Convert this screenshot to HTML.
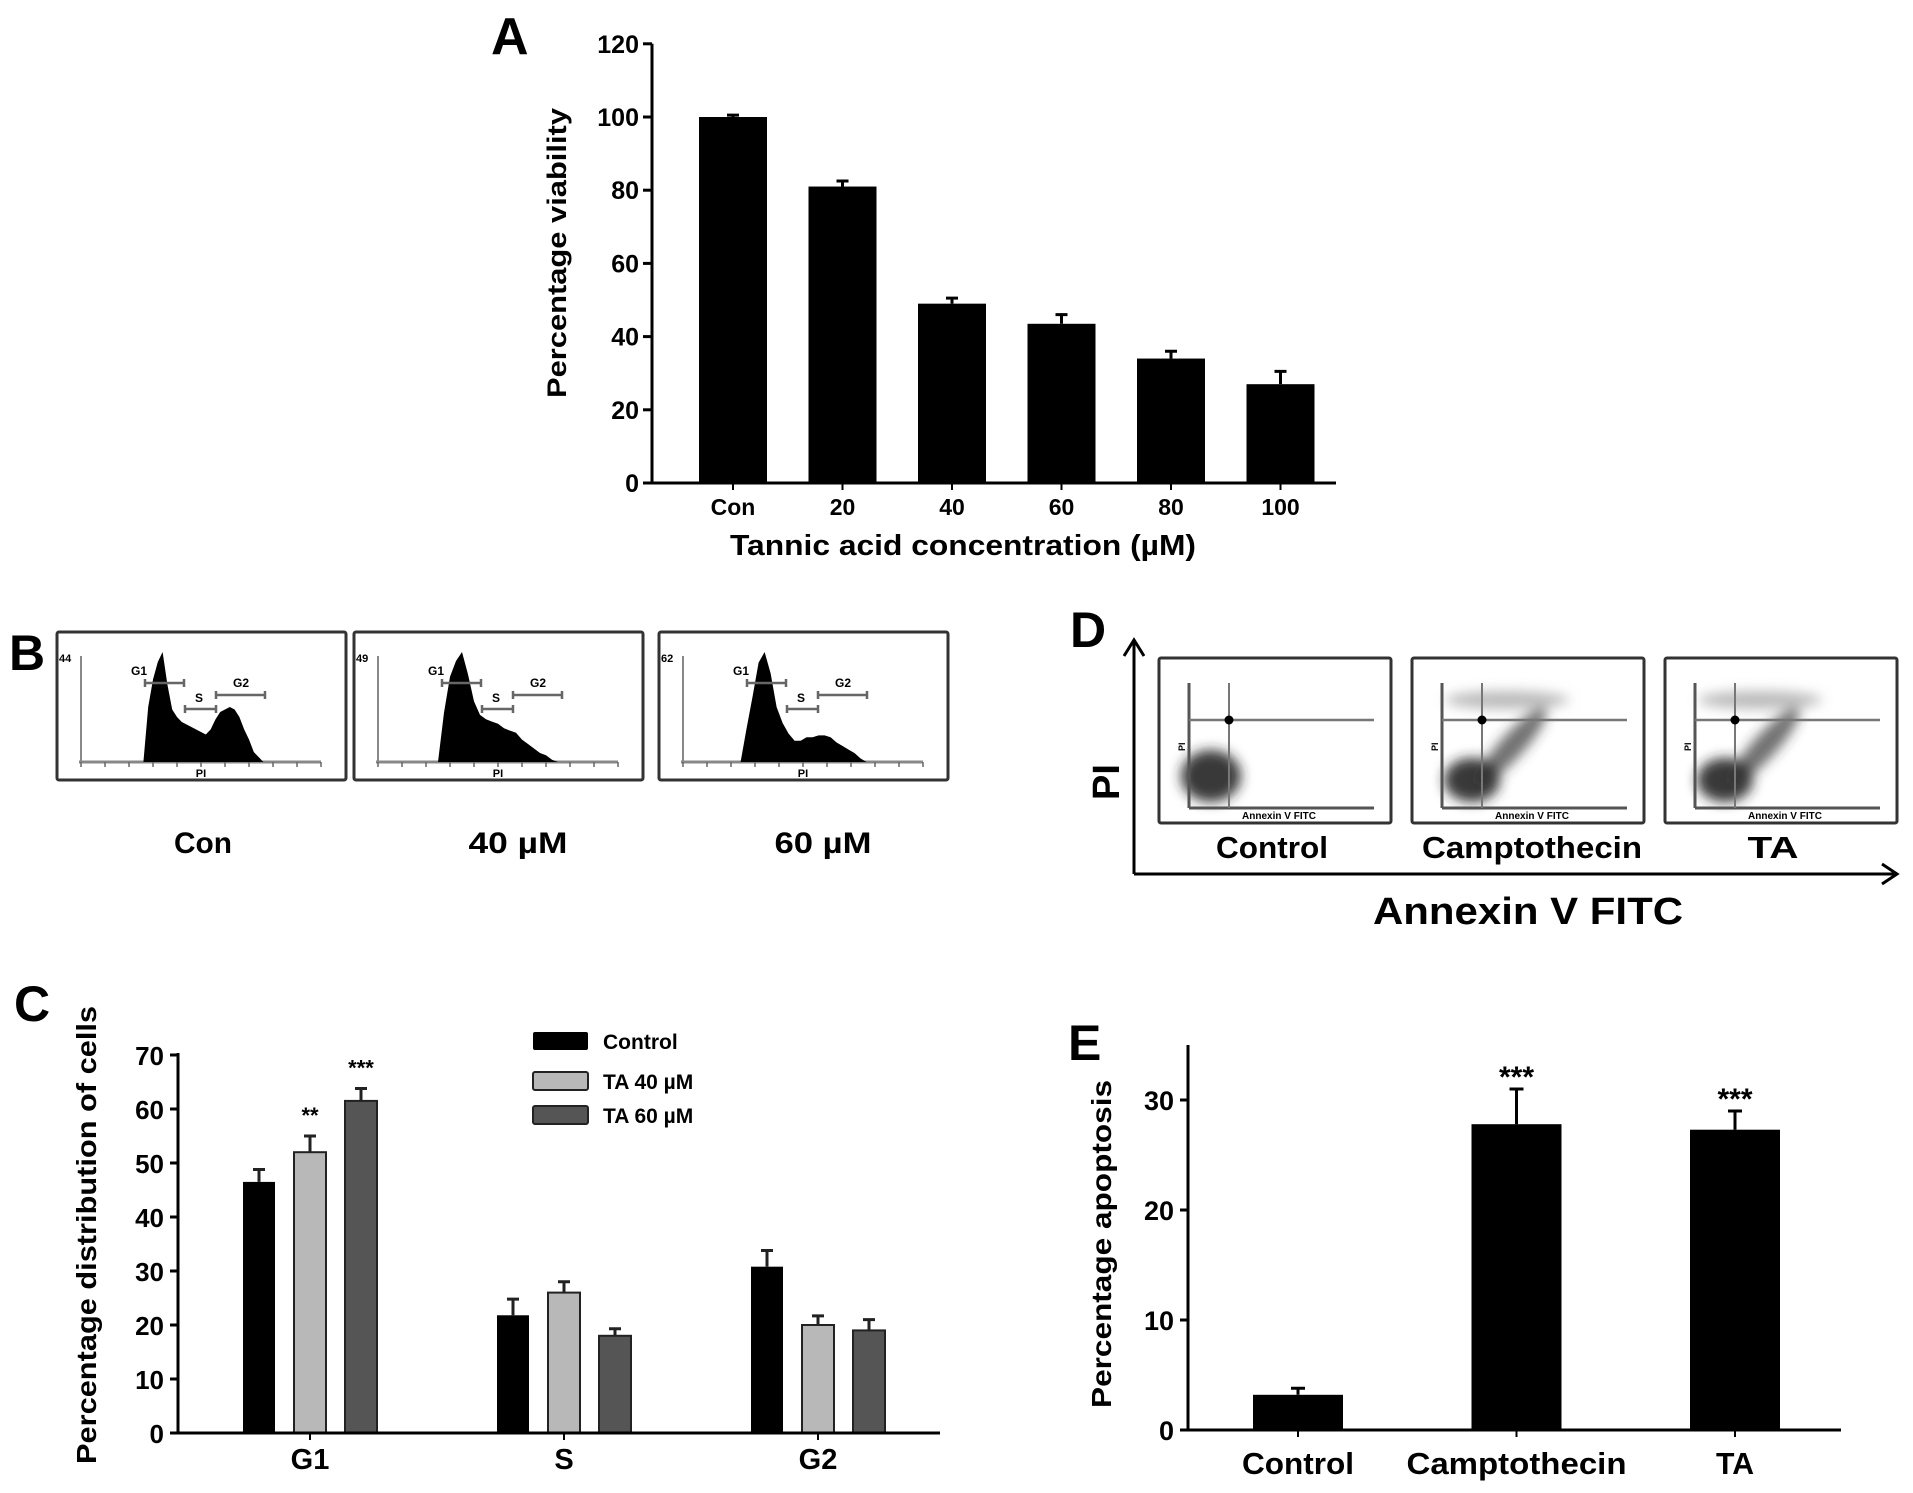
<!DOCTYPE html>
<html><head><meta charset="utf-8"><style>
html,body{margin:0;padding:0;background:#fff}
svg{display:block}
text{font-family:"Liberation Sans",Arial,sans-serif;fill:#000}
</style></head><body>
<svg id="fig" width="1913" height="1493" viewBox="0 0 1913 1493" xmlns="http://www.w3.org/2000/svg">
<defs><filter id="blur" x="-50%" y="-50%" width="200%" height="200%"><feGaussianBlur stdDeviation="6"/></filter></defs>
</svg>
<script>
// ---- Panel A data ----
const aCategories = ["Con","20","40","60","80","100"];
const aValues = [100, 81, 49, 43.5, 34, 27];
const aErrors = [0.5, 1.5, 1.5, 2.5, 2, 3.5];
const aTicks = [0,20,40,60,80,100,120];
// ---- Panel B data (PI histograms) ----
const bLabels = ["Con","40 \u00b5M","60 \u00b5M"];
const bPeaks = [44,49,62];
const bConChannels = [260,280,300,320,340,360,380,400,420,440,460,480,500,520,540,560,580,600,620,640,660,680,700,720,760];
const bConCounts = [0,22,33,40,44,31,21,18,16,15,14,13,12,11,13,17,20,21,22,21,18,13,9,4,0];
const b40Channels = [250,275,300,325,350,375,400,425,450,475,500,525,550,575,600,625,650,675,700,725,750];
const b40Counts = [0,22,38,45,49,39,27,21,19,18,17,15,14,13,10,8,6,4,3,1,0];
const b60Channels = [240,265,290,315,340,365,390,415,440,465,490,515,540,565,590,615,640,665,690,715,740,765];
const b60Counts = [0,19,37,56,62,50,31,22,16,12,12,14,14,15,15,14,11,9,7,5,2,0];
// ---- Panel C data ----
const cCategories = ["G1","S","G2"];
const cSeries = ["Control","TA 40 \u00b5M","TA 60 \u00b5M"];
const cControl = [46.5, 21.8, 30.8];
const cTA40 = [52, 26, 20];
const cTA60 = [61.5, 18, 19];
const cControlErr = [2.3, 3, 3];
const cTA40Err = [3, 2, 1.7];
const cTA60Err = [2.3, 1.3, 2];
const cStars40 = ["**","",""];
const cStars60 = ["***","",""];
const cTicks = [0,10,20,30,40,50,60,70];
// ---- Panel D data ----
const dLabels = ["Control","Camptothecin","TA"];
// ---- Panel E data ----
const eCategories = ["Control","Camptothecin","TA"];
const eValues = [3.2, 27.8, 27.3];
const eErrors = [0.6, 3.2, 1.7];
const eStars = ["","***","***"];
const eTicks = [0,10,20,30];

const svg = document.getElementById('fig');
const NS = 'http://www.w3.org/2000/svg';
function mk(tag, attrs, parent){const e=document.createElementNS(NS,tag);for(const k in attrs)e.setAttribute(k,attrs[k]);(parent||svg).appendChild(e);return e;}
function txt(s, attrs, parent){const e=mk('text',attrs,parent);e.textContent=s;return e;}
let el;

// ================= Panel A =================
const aX0=652, aY0=483;
const aY = v => aY0 - v*3.66;
const aX = i => 733 + i*109.5;
el=txt('A',{x:491,y:54,'font-size':52,'font-weight':'bold'});


aValues.forEach((v,i)=>{
  const r=mk('rect',{x:aX(i)-34,y:aY(v),width:68,height:aY(0)-aY(v),fill:'#000'});
  
  
  const e=mk('path',{d:`M${aX(i)} ${aY(v)} V${aY(v+aErrors[i])} M${aX(i)-6} ${aY(v+aErrors[i])} H${aX(i)+6}`,stroke:'#000','stroke-width':3,fill:'none'});
  
  
  const t=txt(aCategories[i],{x:aX(i),y:515,'font-size':23,'font-weight':'bold','text-anchor':'middle'});
  
  
  mk('line',{x1:aX(i),x2:aX(i),y1:aY0,y2:aY0+7,stroke:'#000','stroke-width':2});
});
aTicks.forEach(v=>{
  mk('line',{x1:aX0-9,x2:aX0,y1:aY(v),y2:aY(v),stroke:'#000','stroke-width':3});
  const t=txt(String(v),{x:aX0-13,y:aY(v)+9,'font-size':25,'font-weight':'bold','text-anchor':'end'});
  
  
});
el=mk('line',{x1:aX0,x2:aX0,y1:aY(120),y2:aY0+1,stroke:'#000','stroke-width':3});


el=mk('line',{x1:aX0,x2:1336,y1:aY0,y2:aY0,stroke:'#000','stroke-width':3});


el=txt('Percentage viability',{x:0,y:0,'font-size':27,'font-weight':'bold','text-anchor':'middle',transform:'translate(566,253) rotate(-90)',textLength:290,lengthAdjust:'spacingAndGlyphs'});


el=txt('Tannic acid concentration (\u00b5M)',{x:963,y:555,'font-size':29,'font-weight':'bold','text-anchor':'middle',textLength:466,lengthAdjust:'spacingAndGlyphs'});



// ================= Panel B =================
el=txt('B',{x:9,y:670,'font-size':50,'font-weight':'bold'});


const bBoxX=[57,354,659];
const bChannels=[bConChannels,b40Channels,b60Channels];
const bCounts=[bConCounts,b40Counts,b60Counts];
const bCapX=[203,518,823], bCapW=[58,99,97];
bBoxX.forEach((bx,k)=>{
  const by=632;
  const g=mk('g',{});
  
  
  mk('rect',{x:bx,y:by,width:289,height:148,fill:'#fff',stroke:'#333','stroke-width':3,rx:2},g);
  const hx = c => bx+24 + c/1000*240;
  const hy = n => by+130 - n/bPeaks[k]*110;
  mk('line',{x1:bx+24,x2:bx+24,y1:by+24,y2:by+130,stroke:'#888','stroke-width':2},g);
  mk('line',{x1:bx+22,x2:bx+264,y1:by+130,y2:by+130,stroke:'#888','stroke-width':3},g);
  for(let t=0;t<=10;t++){mk('line',{x1:bx+24+t*24,x2:bx+24+t*24,y1:by+130,y2:by+135,stroke:'#666','stroke-width':1.5},g);}
  let d='M'+hx(bChannels[k][0])+' '+hy(0);
  bChannels[k].forEach((c,i)=>{d+=' L'+hx(c).toFixed(1)+' '+hy(bCounts[k][i]).toFixed(1);});
  d+=' Z';
  el=mk('path',{d:d,fill:'#000'},g);
  
  
  txt(String(bPeaks[k]),{x:bx+2,y:by+30,'font-size':11,'font-weight':'bold'},g);
  txt('PI',{x:bx+144,y:by+145,'font-size':11,'font-weight':'bold','text-anchor':'middle'},g);
  const gates=[['G1',88,127,51,82,43],['S',128,159,77,142,70],['G2',159,208,63,184,55]];
  gates.forEach(q=>{
    mk('path',{d:`M${bx+q[1]} ${by+q[3]} H${bx+q[2]} M${bx+q[1]} ${by+q[3]-4} V${by+q[3]+4} M${bx+q[2]} ${by+q[3]-4} V${by+q[3]+4}`,stroke:'#666','stroke-width':2.5,fill:'none'},g);
    txt(q[0],{x:bx+q[4],y:by+q[5],'font-size':12,'font-weight':'bold','text-anchor':'middle',fill:'#333'},g);
  });
  el=txt(bLabels[k],{x:bCapX[k],y:853,'font-size':30,'font-weight':'bold','text-anchor':'middle',textLength:bCapW[k],lengthAdjust:'spacingAndGlyphs'});
  
  
});

// ================= Panel C =================
el=txt('C',{x:14,y:1021,'font-size':50,'font-weight':'bold'});


const cX0=178, cY0=1433;
const cY = v => cY0 - v*5.4;
const cGX = i => 310 + i*254;
const cData=[cControl,cTA40,cTA60], cErr=[cControlErr,cTA40Err,cTA60Err];
const cFill=['#000','#b8b8b8','#555'];
cTicks.forEach(v=>{
  mk('line',{x1:cX0-8,x2:cX0,y1:cY(v),y2:cY(v),stroke:'#000','stroke-width':3});
  el=txt(String(v),{x:cX0-14,y:cY(v)+10,'font-size':26,'font-weight':'bold','text-anchor':'end'});
  
  
});
cCategories.forEach((c,i)=>{
  cData.forEach((s,j)=>{
    const cx=cGX(i)+(j-1)*51;
    const r=mk('rect',{x:cx-16,y:cY(s[i]),width:32,height:cY(0)-cY(s[i]),fill:cFill[j],stroke:'#222','stroke-width':j?2:0});
    
    
    const e=mk('path',{d:`M${cx} ${cY(s[i])} V${cY(s[i]+cErr[j][i])} M${cx-6} ${cY(s[i]+cErr[j][i])} H${cx+6}`,stroke:'#222','stroke-width':3,fill:'none'});
    
    
  });
  [[cStars40,1],[cStars60,2]].forEach(p=>{
    if(p[0][i]){
      const cx=cGX(i)+(p[1]-1)*51;
      el=txt(p[0][i],{x:cx,y:cY(cData[p[1]][i]+cErr[p[1]][i])-13,'font-size':22,'font-weight':'bold','text-anchor':'middle',fill:'#555'});
      
      
    }
  });
  el=txt(c,{x:cGX(i),y:1469,'font-size':29,'font-weight':'bold','text-anchor':'middle'});
  
  
  mk('line',{x1:cGX(i),x2:cGX(i),y1:cY0,y2:cY0+7,stroke:'#000','stroke-width':2});
});
el=mk('line',{x1:cX0,x2:cX0,y1:cY(70)-2,y2:cY0+1,stroke:'#000','stroke-width':3});


el=mk('line',{x1:cX0,x2:940,y1:cY0,y2:cY0,stroke:'#000','stroke-width':3});


el=txt('Percentage distribution of cells',{x:0,y:0,'font-size':28,'font-weight':'bold','text-anchor':'middle',transform:'translate(96,1235) rotate(-90)',textLength:458,lengthAdjust:'spacingAndGlyphs'});


cSeries.forEach((s,j)=>{
  const ly=[1041,1081,1115][j];
  const g=mk('g',{});
  
  
  mk('rect',{x:533,y:ly-9,width:55,height:18,fill:cFill[j],stroke:'#222','stroke-width':j?2:0,rx:2},g);
  txt(s,{x:603,y:ly+8,'font-size':21,'font-weight':'bold'},g);
});

// ================= Panel D =================
el=txt('D',{x:1070,y:647,'font-size':50,'font-weight':'bold'});


el=mk('path',{d:'M1134 874 V640 M1124 656 L1134 640 L1144 656',stroke:'#000','stroke-width':3,fill:'none'});


el=mk('path',{d:'M1134 874 H1897 M1882 864 L1897 874 L1882 884',stroke:'#000','stroke-width':3,fill:'none'});


el=txt('PI',{x:0,y:0,'font-size':38,'font-weight':'bold','text-anchor':'middle',transform:'translate(1119,782) rotate(-90)'});


el=txt('Annexin V FITC',{x:1528,y:924,'font-size':38,'font-weight':'bold','text-anchor':'middle',textLength:310,lengthAdjust:'spacingAndGlyphs'});


const dBoxX=[1159,1412,1665];
const dCapX=[1272,1532,1773], dCapW=[112,220,51];
dBoxX.forEach((bx,k)=>{
  const by=658, bw=232, bh=165;
  const g=mk('g',{});
  
  
  mk('rect',{x:bx,y:by,width:bw,height:bh,fill:'#fff',stroke:'#333','stroke-width':3,rx:2},g);
  const cg=mk('g',{filter:'url(#blur)'},g);
  if(k===0){
    mk('ellipse',{cx:bx+52,cy:by+118,rx:30,ry:26,fill:'#222',opacity:0.9},cg);
  } else {
    mk('ellipse',{cx:bx+60,cy:by+122,rx:28,ry:22,fill:'#222',opacity:0.9},cg);
    mk('ellipse',{cx:bx+100,cy:by+88,rx:50,ry:12,fill:'#333',opacity:0.7,transform:`rotate(-48 ${bx+100} ${by+88})`},cg);
    mk('ellipse',{cx:bx+95,cy:by+42,rx:62,ry:9,fill:'#777',opacity:0.5},cg);
  }
  mk('line',{x1:bx+30,x2:bx+30,y1:by+25,y2:by+150,stroke:'#555','stroke-width':3},g);
  mk('line',{x1:bx+30,x2:bx+215,y1:by+150,y2:by+150,stroke:'#555','stroke-width':3},g);
  mk('line',{x1:bx+70,x2:bx+70,y1:by+25,y2:by+150,stroke:'#777','stroke-width':2},g);
  mk('line',{x1:bx+30,x2:bx+215,y1:by+62,y2:by+62,stroke:'#777','stroke-width':2.5},g);
  mk('circle',{cx:bx+70,cy:by+62,r:4.5,fill:'#000'},g);
  txt('PI',{x:0,y:0,'font-size':9,'font-weight':'bold',transform:`translate(${bx+26},${by+93}) rotate(-90)`},g);
  txt('Annexin V FITC',{x:bx+120,y:by+161,'font-size':10,'font-weight':'bold','text-anchor':'middle'},g);
  el=txt(dLabels[k],{x:dCapX[k],y:858,'font-size':31,'font-weight':'bold','text-anchor':'middle',textLength:dCapW[k],lengthAdjust:'spacingAndGlyphs'});
  
  
});

// ================= Panel E =================
el=txt('E',{x:1068,y:1060,'font-size':50,'font-weight':'bold'});


const eX0=1188, eY0=1430;
const eY = v => eY0 - v*11;
const eX = i => 1298 + i*218.5;
const eLabW=[112,220,38];
eTicks.forEach(v=>{
  mk('line',{x1:eX0-8,x2:eX0,y1:eY(v),y2:eY(v),stroke:'#000','stroke-width':3});
  el=txt(String(v),{x:eX0-14,y:eY(v)+10,'font-size':27,'font-weight':'bold','text-anchor':'end'});
  
  
});
eValues.forEach((v,i)=>{
  const r=mk('rect',{x:eX(i)-45,y:eY(v),width:90,height:eY(0)-eY(v),fill:'#000'});
  
  
  const e=mk('path',{d:`M${eX(i)} ${eY(v)} V${eY(v+eErrors[i])} M${eX(i)-7} ${eY(v+eErrors[i])} H${eX(i)+7}`,stroke:'#000','stroke-width':3,fill:'none'});
  
  
  if(eStars[i]){
    el=txt(eStars[i],{x:eX(i),y:eY(v+eErrors[i])-2,'font-size':30,'font-weight':'bold','text-anchor':'middle'});
    
    
  }
  mk('line',{x1:eX(i),x2:eX(i),y1:eY0,y2:eY0+7,stroke:'#000','stroke-width':2});
  el=txt(eCategories[i],{x:eX(i),y:1474,'font-size':31,'font-weight':'bold','text-anchor':'middle',textLength:eLabW[i],lengthAdjust:'spacingAndGlyphs'});
  
  
});
el=mk('line',{x1:eX0,x2:eX0,y1:1045,y2:eY0+1,stroke:'#000','stroke-width':3});


el=mk('line',{x1:eX0,x2:1841,y1:eY0,y2:eY0,stroke:'#000','stroke-width':3});


el=txt('Percentage apoptosis',{x:0,y:0,'font-size':28,'font-weight':'bold','text-anchor':'middle',transform:'translate(1111,1244) rotate(-90)',textLength:328,lengthAdjust:'spacingAndGlyphs'});


</script>
</body></html>
